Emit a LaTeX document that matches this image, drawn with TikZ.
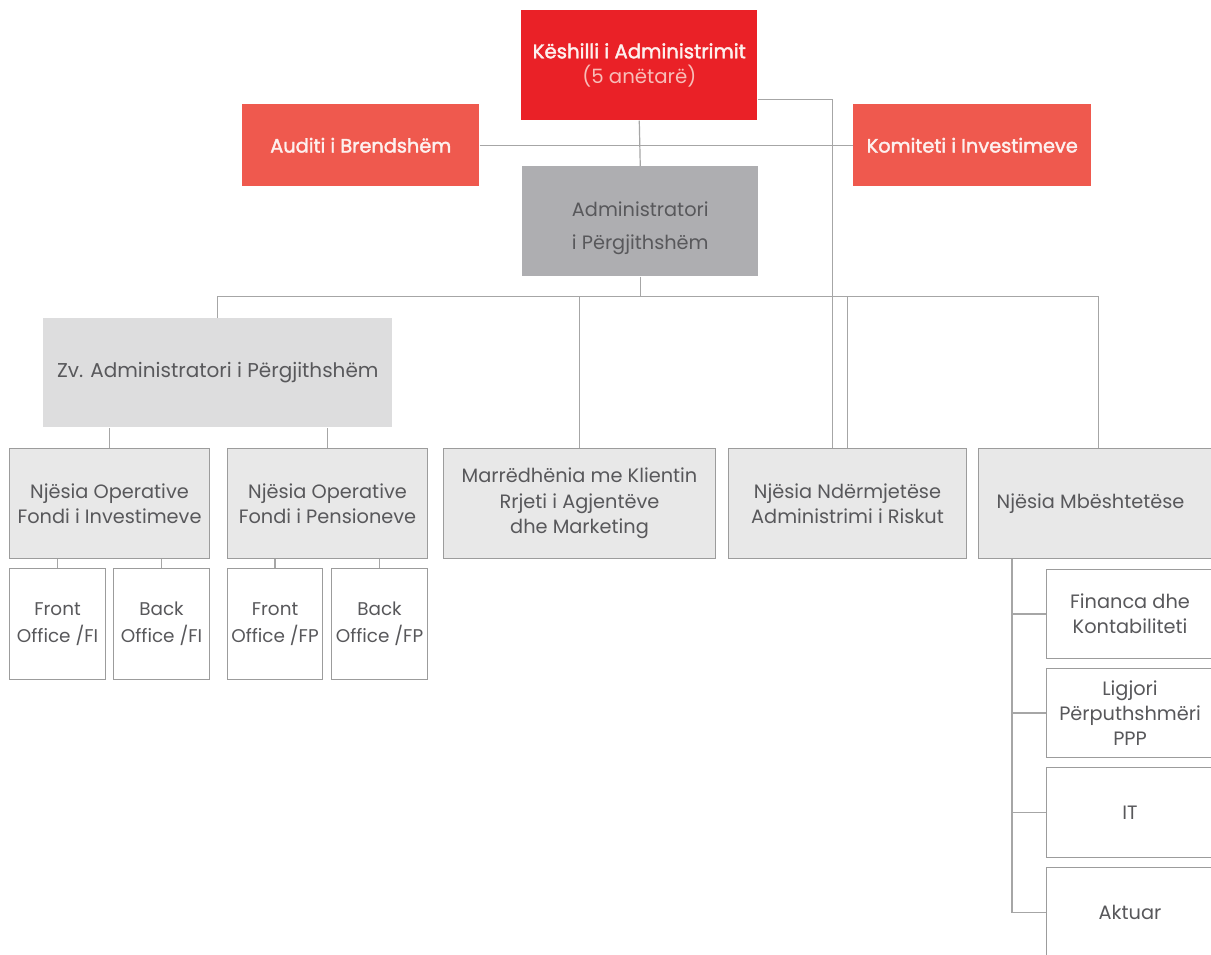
\documentclass[tikz,border=0pt]{standalone}
\usepackage{fontspec}
\setmainfont{Poppins}
\newfontfamily\medfont{Poppins}[FakeBold=2]
\usetikzlibrary{calc}
\definecolor{kred}{HTML}{EA2127}
\definecolor{sred}{HTML}{EF594E}
\definecolor{pinktxt}{HTML}{F8BDB8}
\definecolor{offwhite}{HTML}{FDF0EE}
\definecolor{admgray}{HTML}{AEAEB1}
\definecolor{zvgray}{HTML}{DDDDDE}
\definecolor{unitfill}{HTML}{E8E8E8}
\definecolor{unitline}{HTML}{9C9C9C}
\definecolor{txtgray}{HTML}{58585B}
\definecolor{conncol}{HTML}{A6A6A6}
\tikzset{
  base/.style={inner sep=0pt, anchor=north west, align=center, font=\fontsize{14.5}{19}\selectfont},
  redtop/.style={base, fill=kred, text=offwhite, font=\fontsize{14.8}{19}\selectfont},
  redside/.style={base, fill=sred, text=offwhite, font=\fontsize{14.5}{19}\selectfont\medfont},
  admbox/.style={base, fill=admgray, text=txtgray, font=\fontsize{14.5}{25}\selectfont},
  zvbox/.style={base, fill=zvgray, text=txtgray, font=\fontsize{15}{19}\selectfont},
  unitbox/.style={base, fill=unitfill, draw=unitline, line width=0.8pt, text=txtgray},
  subbox/.style={base, fill=white, draw=unitline, line width=0.8pt, text=txtgray},
  smallbox/.style={subbox, font=\fontsize{13.8}{20.5}\selectfont},
  conn/.style={draw=conncol, line width=0.9pt},
}
\newcommand{\orgbox}[7]{\node[#6, minimum width={(#4-#2)*0.75pt}, minimum height={(#5-#3)*0.75pt}] (#1) at (#2,#3) {#7};}
\begin{document}
\begin{tikzpicture}[x=0.75pt, y=-0.75pt]
\useasboundingbox (0,0) rectangle (1211,954);
\fill[white] (0,0) rectangle (1211,954);
% top level
\orgbox{kesh}{521}{10}{757}{120}{redtop}{{\medfont Këshilli i Administrimit}\\{\color{pinktxt}(5 anëtarë)}}
\orgbox{aud}{242}{104}{479}{186}{redside}{Auditi i Brendshëm}
\orgbox{kom}{853}{104}{1091}{186}{redside}{Komiteti i Investimeve}
\orgbox{adm}{522}{166}{758}{276}{admbox}{\rule{0pt}{22pt}Administratori\\i Përgjithshëm}
\orgbox{zv}{43}{318}{392}{427}{zvbox}{Zv. Administratori i Përgjithshëm}
% units
\orgbox{noi}{9}{448}{209}{558}{unitbox}{Njësia Operative\\Fondi i Investimeve}
\orgbox{nop}{227}{448}{427}{558}{unitbox}{Njësia Operative\\Fondi i Pensioneve}
\orgbox{mar}{443}{448}{715}{558}{unitbox}{Marrëdhënia me Klientin\\Rrjeti i Agjentëve\\dhe Marketing}
\orgbox{ndm}{728}{448}{966}{558}{unitbox}{Njësia Ndërmjetëse\\Administrimi i Riskut}
\orgbox{mbs}{978}{448}{1218}{558}{unitbox}{Njësia Mbështetëse\hspace*{12pt}}
% sub boxes left
\orgbox{fofi}{9}{568}{105}{679}{smallbox}{Front\\Office /FI}
\orgbox{bofi}{113}{568}{209}{679}{smallbox}{Back\\Office /FI}
\orgbox{fofp}{227}{568}{322}{679}{smallbox}{Front\\Office /FP}
\orgbox{bofp}{331}{568}{427}{679}{smallbox}{Back\\Office /FP}
% sub boxes right
\orgbox{fin}{1046}{569}{1213}{658}{subbox}{Financa dhe\\Kontabiliteti}
\orgbox{lig}{1046}{668}{1213}{757}{subbox}{Ligjori\\Përputhshmëri\\PPP}
\orgbox{it}{1046}{767}{1213}{857}{subbox}{IT}
\orgbox{akt}{1046}{867}{1213}{957}{subbox}{Aktuar}
% connectors
\draw[conn] (kesh.south) -- (adm.north);
\draw[conn] (aud.east) -- (kom.west);
\coordinate (kr) at ($(kesh.south east)+(0,-21)$);
\draw[conn] (kr) -| ($(ndm.north)+(-15,0)$);
\coordinate (br) at ($(adm.south)+(0,20)$);
\draw[conn] (adm.south) -- (br);
\draw[conn] (zv.north) |- (mbs.north |- br) -- (mbs.north);
\draw[conn] (mar.north) -- (mar.north |- br);
\draw[conn] (ndm.north) -- (ndm.north |- br);
\draw[conn] (noi.north) -- (noi.north |- zv.south);
\draw[conn] (nop.north) -- (nop.north |- zv.south);
\draw[conn] (fofi.north) -- (fofi.north |- noi.south);
\draw[conn] (bofi.north) -- (bofi.north |- noi.south);
\draw[conn] (fofp.north) -- (fofp.north |- nop.south);
\draw[conn] (bofp.north) -- (bofp.north |- nop.south);
\coordinate (sp) at ($(mbs.south west)+(34,0)$);
\draw[conn] (sp) |- (akt.west);
\draw[conn] (sp |- fin.west) -- (fin.west);
\draw[conn] (sp |- lig.west) -- (lig.west);
\draw[conn] (sp |- it.west) -- (it.west);
\end{tikzpicture}
\end{document}
